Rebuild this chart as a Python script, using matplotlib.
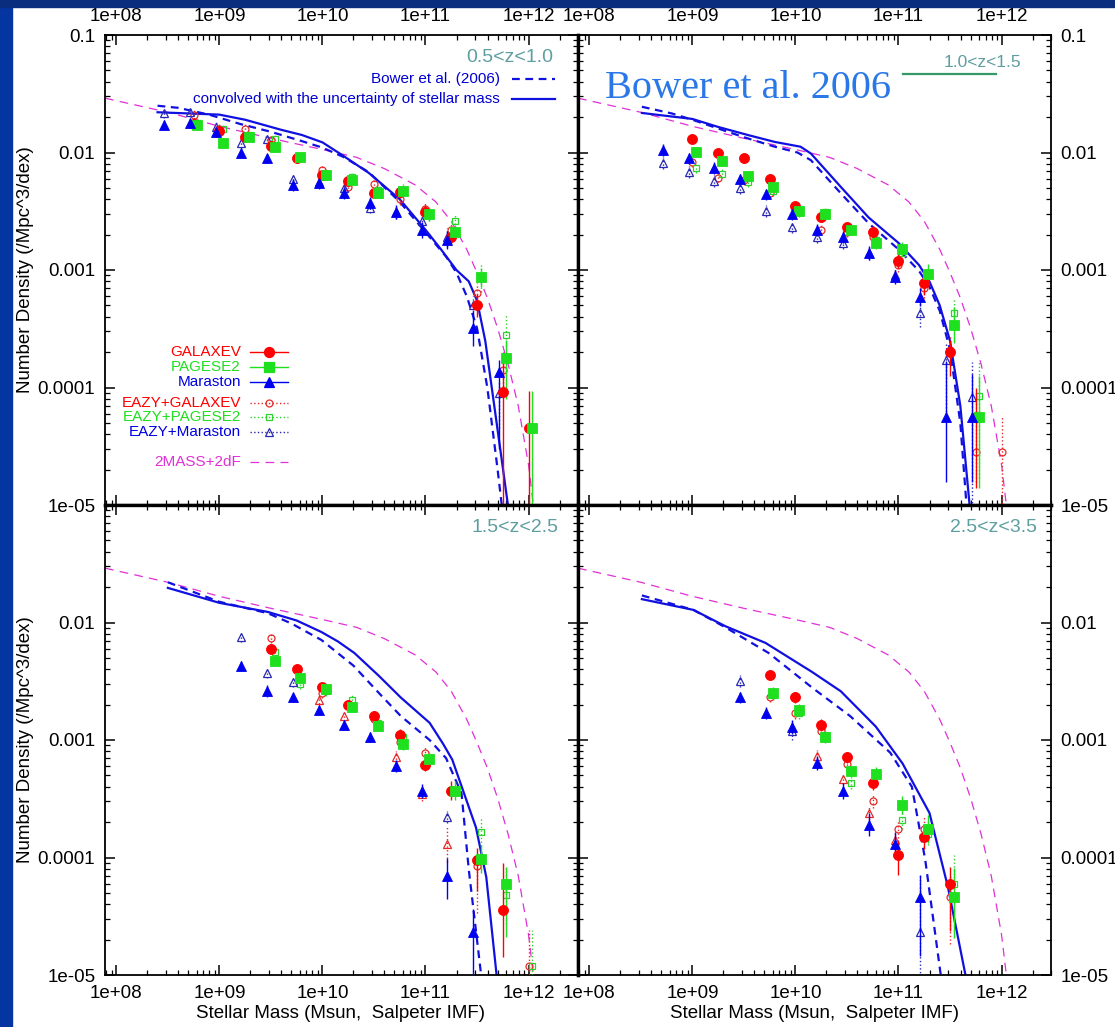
import numpy as np
import matplotlib
matplotlib.use("Agg")
import matplotlib.pyplot as plt
from matplotlib.patches import Rectangle
from matplotlib.ticker import LogLocator, NullFormatter

plt.rcParams['font.family'] = ['Liberation Sans', 'DejaVu Sans']

nan = np.nan

# ---------------- data ----------------
# 2MASS+2dF local stellar mass function (same curve in every panel)
cole_logm = [7.89, 8.5, 9.0, 9.5, 10.0, 10.33, 10.6, 10.9, 11.1, 11.25, 11.4, 11.5,
             11.6, 11.7, 11.8, 11.9, 12.0, 12.06]
cole_phi = [0.029, 0.022, 0.0167, 0.0132, 0.0106, 0.0091, 0.0073, 0.0053, 0.0038, 0.0026,
            0.0015, 0.00095, 0.00058, 0.00032, 0.00016, 0.00007, 0.000022, 0.000008]

# panel 1: 0.5<z<1.0
z1_label = '0.5<z<1.0'
z1_bower_logm = [8.40, 8.6, 8.9, 9.2, 9.5, 9.8, 10.0, 10.2, 10.45, 10.75, 11.0, 11.2, 11.3,
                 11.4, 11.5, 11.6, 11.7, 11.74]
z1_bower_phi = [0.025, 0.024, 0.021, 0.0175, 0.015, 0.0125, 0.011, 0.0092, 0.0068, 0.0038,
                0.0021, 0.0013, 0.00095, 0.0006, 0.00032, 0.0001, 0.00002, 0.00001]
z1_conv_logm = [8.40, 8.7, 9.0, 9.25, 9.6, 9.8, 10.0, 10.2, 10.45, 10.75, 11.0, 11.15, 11.3,
                11.42, 11.5, 11.58, 11.66, 11.73, 11.8]
z1_conv_phi = [0.022, 0.0215, 0.021, 0.019, 0.0156, 0.0141, 0.0122, 0.0094, 0.0067, 0.004,
               0.0022, 0.0015, 0.001, 0.0008, 0.00055, 0.00025, 0.000078, 0.000028, 0.00001]
z1_bins = [8.5, 8.75, 9.0, 9.25, 9.5, 9.75, 10.0, 10.25, 10.5, 10.75, 11.0, 11.25, 11.5, 11.75, 12.0]
z1_galaxev = [nan, 0.0175, 0.0152, 0.0136, 0.0114, 0.0089, 0.0064, 0.0057, 0.0045, 0.0046,
              0.0031, 0.0019, 5.0e-4, 9.1e-5, 4.5e-5]
z1_galaxev_err = [0, .04, .04, .04, .04, .04, .04, .04, .04, .05, .06, .06, .1, (1.0, .34), (1.0, .32)]
z1_pegase = [nan, 0.0170, 0.0120, 0.0136, 0.0112, 0.0091, 0.0064, 0.0058, 0.0045, 0.0047,
             0.0030, 0.0021, 8.7e-4, 1.8e-4, 4.5e-5]
z1_pegase_err = [0, .04, .04, .04, .04, .04, .04, .04, .04, .05, .06, .06, .08, (.35, .15), (1.0, .32)]
z1_maraston = [0.0171, 0.0178, 0.0149, 0.0100, 0.0089, 0.0053, 0.0055, 0.0045, 0.0037, 0.0031,
               0.0022, 0.0018, 3.2e-4, 1.35e-4, nan]
z1_maraston_err = [.04, .04, .04, .04, .04, .05, .05, .05, .05, .06, .07, .08, .15, (.65, .1), 0]
z1_eazy_gal = [nan, 0.021, 0.016, 0.016, 0.0128, 0.0092, 0.0071, 0.0051, 0.0054, 0.0040,
               0.0033, 0.0022, 6.4e-4, 1.4e-4, nan]
z1_eazy_gal_err = [0, .04, .04, .04, .04, .04, .04, .04, .04, .05, .06, .06, .08, (.2, .1), 0]
z1_eazy_peg = [nan, 0.018, 0.0158, 0.0141, 0.0130, 0.0092, 0.0066, 0.0062, 0.0048, 0.0048,
               0.0030, 0.0026, 8.5e-4, 2.8e-4, nan]
z1_eazy_peg_err = [0, .04, .04, .04, .04, .04, .04, .04, .04, .05, .06, .06, .12, (.35, .18), 0]
z1_eazy_mar = [0.0215, 0.022, 0.0166, 0.0120, 0.0130, 0.0060, 0.0056, 0.0050, 0.0034, 0.0031,
               0.0026, 0.0019, 5.0e-4, 9.0e-5, nan]
z1_eazy_mar_err = [.04, .04, .04, .04, .04, .05, .05, .05, .05, .06, .07, .08, .08, (.3, .1), 0]
z1_eazy_mar_red = [nan] * 15
z1_eazy_mar_red_err = [0] * 15

# panel 2: 1.0<z<1.5
z2_label = '1.0<z<1.5'
z2_bower_logm = [8.51, 8.8, 9.0, 9.25, 9.5, 9.8, 10.02, 10.15, 10.44, 10.71, 11.0, 11.2,
                 11.3, 11.4, 11.5, 11.6, 11.66]
z2_bower_phi = [0.0245, 0.0215, 0.019, 0.016, 0.0135, 0.0112, 0.0100, 0.0086, 0.0045, 0.0025,
                0.0015, 0.00098, 0.00072, 0.00045, 0.00021, 0.00005, 0.00001]
z2_conv_logm = [8.51, 9.0, 9.25, 9.55, 9.8, 10.05, 10.15, 10.44, 10.71, 11.0, 11.2, 11.3,
                11.4, 11.5, 11.6, 11.69]
z2_conv_phi = [0.0217, 0.0193, 0.0165, 0.014, 0.0123, 0.0112, 0.0098, 0.0051, 0.0028, 0.0017,
               0.0011, 0.0008, 0.0005, 0.00025, 0.00007, 0.00001]
z2_bins = [8.75, 9.0, 9.25, 9.5, 9.75, 10.0, 10.25, 10.5, 10.75, 11.0, 11.25, 11.5, 11.75, 12.0]
z2_galaxev = [nan, 0.0131, 0.0099, 0.0089, 0.0060, 0.0035, 0.0028, 0.0023, 0.0021, 0.0012,
              7.7e-4, 2.0e-4, 5.6e-5, nan]
z2_galaxev_err = [0, .04, .04, .04, .04, .04, .04, .04, .05, .06, .1, (.2, .1), (.6, .25), 0]
z2_pegase = [nan, 0.0101, 0.0084, 0.0063, 0.0051, 0.0032, 0.0030, 0.0022, 0.0017, 0.0015,
             9.3e-4, 3.4e-4, 5.6e-5, nan]
z2_pegase_err = [0, .04, .04, .04, .04, .04, .04, .04, .05, .06, .08, .15, (.6, .35), 0]
z2_maraston = [0.0105, 0.0089, 0.0074, 0.0059, 0.0044, 0.0030, 0.0022, 0.0019, 0.0014, 8.7e-4,
               5.9e-4, 5.6e-5, 5.6e-5, nan]
z2_maraston_err = [.05, .05, .05, .05, .05, .05, .05, .05, .06, .06, .08, (.55, .48), (.55, .37), 0]
z2_eazy_gal = [nan, 0.0083, 0.0061, 0.0058, 0.0045, 0.0031, 0.0022, 0.0021, 0.0019, 0.0011,
               7.0e-4, 2.1e-4, 2.8e-5, 2.8e-5]
z2_eazy_gal_err = [0, .04, .04, .04, .04, .04, .04, .04, .05, .06, .08, .12, (.25, .53), (.5, .31)]
z2_eazy_peg = [nan, 0.0074, 0.0066, 0.0056, 0.0047, 0.0031, 0.0031, 0.0022, 0.0018, 0.0014,
               9.0e-4, 4.3e-4, 8.5e-5, nan]
z2_eazy_peg_err = [0, .04, .04, .04, .04, .04, .04, .04, .05, .06, .08, .12, (.7, .3), 0]
z2_eazy_mar = [0.0081, 0.0068, 0.0057, 0.0050, 0.0032, 0.0023, 0.0019, 0.0017, 0.0014, 9.0e-4,
               4.3e-4, 1.7e-4, 8.3e-5, nan]
z2_eazy_mar_err = [.05, .05, .05, .05, .05, .05, .05, .05, .06, .06, .12, (.5, .15), (.9, .3), 0]
z2_eazy_mar_red = [nan] * 14
z2_eazy_mar_red_err = [0] * 14

# panel 3: 1.5<z<2.5
z3_label = '1.5<z<2.5'
z3_bower_logm = [8.5, 9.0, 9.47, 9.7, 9.99, 10.3, 10.55, 10.76, 11.04, 11.2, 11.35, 11.42, 11.54]
z3_bower_phi = [0.022, 0.015, 0.012, 0.0098, 0.0071, 0.0043, 0.0025, 0.0016, 0.001, 0.0007,
                0.00035, 0.000079, 0.00001]
z3_conv_logm = [8.5, 9.0, 9.47, 9.75, 9.99, 10.15, 10.31, 10.55, 10.76, 11.04, 11.17, 11.26,
                11.49, 11.59, 11.69]
z3_conv_phi = [0.0197, 0.0147, 0.0123, 0.0104, 0.0083, 0.0069, 0.0055, 0.0035, 0.0023, 0.0014,
               0.00093, 0.00068, 0.00018, 0.000068, 0.00001]
z3_bins = [9.25, 9.5, 9.75, 10.0, 10.25, 10.5, 10.75, 11.0, 11.25, 11.5, 11.75, 12.0]
z3_galaxev = [nan, 0.0060, 0.0040, 0.0028, 0.0020, 0.0016, 0.0011, 6.1e-4, 3.7e-4, 9.5e-5, 3.6e-5, nan]
z3_galaxev_err = [0, .04, .04, .04, .04, .04, .05, .05, .08, (.26, .1), (.4, .4), 0]
z3_pegase = [nan, 0.0047, 0.0034, 0.0027, 0.0019, 0.00132, 9.3e-4, 6.9e-4, 3.7e-4, 9.7e-5, 5.9e-5, nan]
z3_pegase_err = [0, .04, .04, .04, .04, .04, .05, .06, .08, .12, (.45, .15), 0]
z3_maraston = [0.0043, 0.0026, 0.0023, 0.0018, 0.00134, 0.00106, 6.0e-4, 3.7e-4, 7.0e-5, 2.3e-5, nan, nan]
z3_maraston_err = [.04, .05, .04, .04, .04, .04, .05, .06, (.2, .15), (.8, .2), 0, 0]
z3_eazy_gal = [nan, 0.0074, nan, 0.0025, nan, 0.0015, 9.6e-4, 7.7e-4, nan, 8.5e-5, nan, 1.2e-5]
z3_eazy_gal_err = [0, .04, 0, .04, 0, .04, .05, .06, 0, (.4, .1), 0, (.3, .3)]
z3_eazy_peg = [nan, 0.0056, 0.0030, 0.0026, 0.0022, 0.0014, 0.00106, nan, nan, 1.65e-4, 4.8e-5, 1.2e-5]
z3_eazy_peg_err = [0, .04, .04, .04, .04, .04, .05, 0, 0, .12, .25, (.3, .3)]
z3_eazy_mar = [0.0075, 0.0037, 0.0031, nan, nan, nan, nan, nan, 2.2e-4, nan, nan, nan]
z3_eazy_mar_err = [.04, .04, .04, 0, 0, 0, 0, 0, .05, 0, 0, 0]
z3_eazy_mar_red = [nan, nan, nan, 0.0022, 0.0016, nan, 7.2e-4, 3.5e-4, 1.3e-4, nan, nan, nan]
z3_eazy_mar_red_err = [0, 0, 0, .04, .04, 0, .05, .06, (.15, .15), 0, 0, 0]

# panel 4: 2.5<z<3.5
z4_label = '2.5<z<3.5'
z4_bower_logm = [8.51, 9.01, 9.32, 9.74, 10.16, 10.53, 10.92, 11.13, 11.26, 11.41]
z4_bower_phi = [0.017, 0.0128, 0.0091, 0.0055, 0.0028, 0.0016, 0.00078, 0.0004, 0.000095, 0.00001]
z4_conv_logm = [8.51, 9.01, 9.32, 9.71, 10.16, 10.44, 10.78, 11.04, 11.3, 11.48, 11.65]
z4_conv_phi = [0.0158, 0.0128, 0.0093, 0.0067, 0.0038, 0.0026, 0.0013, 0.00063, 0.00024,
               0.000056, 0.00001]
z4_bins = [9.5, 9.75, 10.0, 10.25, 10.5, 10.75, 11.0, 11.25, 11.5]
z4_galaxev = [nan, 0.0036, 0.0023, 0.00135, 7.1e-4, 4.3e-4, 1.05e-4, 1.5e-4, 5.9e-5]
z4_galaxev_err = [0, .04, .05, .05, .05, .06, (.17, .13), .1, (.4, .15)]
z4_pegase = [nan, 0.0025, 0.0018, 0.00106, 5.4e-4, 5.1e-4, 2.8e-4, 1.75e-4, 4.6e-5]
z4_pegase_err = [0, .05, .05, .05, .05, .06, .08, .12, (.35, .25)]
z4_maraston = [0.0023, 0.0017, 0.0013, 6.4e-4, 3.7e-4, 1.9e-4, 1.3e-4, 4.6e-5, nan]
z4_maraston_err = [.05, .05, .06, .06, .07, .1, .1, (.5, .19), 0]
z4_eazy_gal = [nan, 0.0023, 0.0017, 0.0012, 6.3e-4, 3.0e-4, 1.75e-4, 1.75e-4, 4.6e-5]
z4_eazy_gal_err = [0, .04, .05, .05, .05, .06, .08, .1, (.4, .2)]
z4_eazy_peg = [nan, 0.0024, 0.0017, 0.0011, 4.3e-4, nan, 2.1e-4, 1.6e-4, 5.9e-5]
z4_eazy_peg_err = [0, .04, .05, .05, .05, 0, .08, .1, (.35, .25)]
z4_eazy_mar = [0.0032, nan, 0.0012, nan, nan, nan, nan, 2.3e-5, nan]
z4_eazy_mar_err = [.05, 0, .08, 0, 0, 0, 0, (1.0, .5), 0]
z4_eazy_mar_red = [nan, nan, nan, 7.3e-4, 4.7e-4, 2.4e-4, 1.4e-4, nan, nan]
z4_eazy_mar_red_err = [0, 0, 0, .05, .05, .06, .08, 0, 0]

legend_names = ['GALAXEV', 'PAGESE2', 'Maraston', 'EAZY+GALAXEV', 'EAZY+PAGESE2', 'EAZY+Maraston']

# ---------------- styles ----------------
RED = '#ff0000'
GREEN = '#1ee01e'
BLUE = '#0000f0'
NAVY = '#2828b4'
MAGENTA = '#e030d8'
MODEL = '#1010e0'
ZCOL = '#5f9ea0'
BOWER_DASH = (3.5, 2.5)
COLE_DASH = (7, 5)

# (color, marker, size, filled, errbar style, x shift in dex)
styles = {
    'galaxev': (RED, 'o', 7.2, True, '-', 0.0),
    'pegase': (GREEN, 's', 6.5, True, '-', 0.035),
    'maraston': (BLUE, '^', 7.5, True, '-', -0.037),
    'eazy_gal': ('#e82828', 'o', 5.0, False, ':', 0.0),
    'eazy_peg': ('#2ad42a', 's', 5.0, False, ':', 0.035),
    'eazy_mar': (NAVY, '^', 5.5, False, ':', -0.037),
    'eazy_mar_red': ('#e82828', '^', 5.5, False, ':', -0.037),
}


def plot_series(ax, bins, vals, errs, key):
    color, marker, ms, filled, ls, shift = styles[key]
    logm = np.array(bins) + shift
    y = np.array(vals, dtype=float)
    lo = np.array([e[0] if isinstance(e, tuple) else e for e in errs], dtype=float)
    hi = np.array([e[1] if isinstance(e, tuple) else e for e in errs], dtype=float)
    ok = np.isfinite(y)
    if not ok.any():
        return
    x, y, lo, hi = 10 ** logm[ok], y[ok], lo[ok], hi[ok]
    yerr = [y - y * 10 ** -lo, y * 10 ** hi - y]
    eb = ax.errorbar(x, y, yerr=yerr, fmt=marker, ms=ms, color=color,
                     mfc=color if filled else 'none', mec=color,
                     mew=0.6 if filled else 0.9, elinewidth=1.0, capsize=0, zorder=4 if filled else 3)
    if ls != '-':
        eb.lines[2][0].set_linestyle(ls)


def setup_axes(ax, left_col, top_row):
    ax.set_xscale('log')
    ax.set_yscale('log')
    ax.set_xlim(10 ** 7.89, 10 ** 12.48)
    ax.set_ylim(1e-5, 0.1)
    ax.set_xticks([1e8, 1e9, 1e10, 1e11, 1e12], ['1e+08', '1e+09', '1e+10', '1e+11', '1e+12'])
    ylabs = ['1e-05', '0.0001', '0.001', '0.01', '0.1' if top_row else '']
    ax.set_yticks([1e-5, 1e-4, 1e-3, 1e-2, 1e-1], ylabs)
    for axis in (ax.xaxis, ax.yaxis):
        axis.set_minor_locator(LogLocator(base=10, subs=np.arange(2, 10)))
        axis.set_minor_formatter(NullFormatter())
    ax.tick_params(which='both', direction='in', top=True, bottom=True, left=True, right=True,
                   labeltop=top_row, labelbottom=not top_row,
                   labelleft=left_col, labelright=not left_col,
                   labelsize=13.5, pad=7)
    ax.tick_params(which='major', length=7, width=1.1)
    ax.tick_params(which='minor', length=3.5, width=0.9)
    inner = {'right': left_col, 'left': not left_col, 'bottom': top_row, 'top': not top_row}
    for side, sp in ax.spines.items():
        sp.set_linewidth(2.4 if inner[side] else 1.3)


def draw_panel(ax, bower_m, bower_p, conv_m, conv_p, bins, series):
    ax.plot(10 ** np.array(cole_logm), cole_phi, color=MAGENTA, lw=0.9, dashes=COLE_DASH, zorder=2)
    ax.plot(10 ** np.array(bower_m), bower_p, color=MODEL, lw=1.6, dashes=BOWER_DASH, zorder=2)
    ax.plot(10 ** np.array(conv_m), conv_p, color=MODEL, lw=1.6, zorder=2)
    for key, vals, errs in series:
        plot_series(ax, bins, vals, errs, key)


W, H = 1115, 1027
fig = plt.figure(figsize=(W / 100, H / 100), dpi=100)
fig.patch.set_facecolor('white')


def add_ax(x0, y0, x1, y1):
    return fig.add_axes([x0 / W, 1 - y1 / H, (x1 - x0) / W, (y1 - y0) / H])


ax1 = add_ax(105, 35, 578, 505)
ax2 = add_ax(578, 35, 1051, 505)
ax3 = add_ax(105, 505, 578, 975)
ax4 = add_ax(578, 505, 1051, 975)

panels = [
    (ax1, True, True, z1_bower_logm, z1_bower_phi, z1_conv_logm, z1_conv_phi, z1_bins,
     [('galaxev', z1_galaxev, z1_galaxev_err), ('pegase', z1_pegase, z1_pegase_err),
      ('maraston', z1_maraston, z1_maraston_err), ('eazy_gal', z1_eazy_gal, z1_eazy_gal_err),
      ('eazy_peg', z1_eazy_peg, z1_eazy_peg_err), ('eazy_mar', z1_eazy_mar, z1_eazy_mar_err),
      ('eazy_mar_red', z1_eazy_mar_red, z1_eazy_mar_red_err)]),
    (ax2, False, True, z2_bower_logm, z2_bower_phi, z2_conv_logm, z2_conv_phi, z2_bins,
     [('galaxev', z2_galaxev, z2_galaxev_err), ('pegase', z2_pegase, z2_pegase_err),
      ('maraston', z2_maraston, z2_maraston_err), ('eazy_gal', z2_eazy_gal, z2_eazy_gal_err),
      ('eazy_peg', z2_eazy_peg, z2_eazy_peg_err), ('eazy_mar', z2_eazy_mar, z2_eazy_mar_err),
      ('eazy_mar_red', z2_eazy_mar_red, z2_eazy_mar_red_err)]),
    (ax3, True, False, z3_bower_logm, z3_bower_phi, z3_conv_logm, z3_conv_phi, z3_bins,
     [('galaxev', z3_galaxev, z3_galaxev_err), ('pegase', z3_pegase, z3_pegase_err),
      ('maraston', z3_maraston, z3_maraston_err), ('eazy_gal', z3_eazy_gal, z3_eazy_gal_err),
      ('eazy_peg', z3_eazy_peg, z3_eazy_peg_err), ('eazy_mar', z3_eazy_mar, z3_eazy_mar_err),
      ('eazy_mar_red', z3_eazy_mar_red, z3_eazy_mar_red_err)]),
    (ax4, False, False, z4_bower_logm, z4_bower_phi, z4_conv_logm, z4_conv_phi, z4_bins,
     [('galaxev', z4_galaxev, z4_galaxev_err), ('pegase', z4_pegase, z4_pegase_err),
      ('maraston', z4_maraston, z4_maraston_err), ('eazy_gal', z4_eazy_gal, z4_eazy_gal_err),
      ('eazy_peg', z4_eazy_peg, z4_eazy_peg_err), ('eazy_mar', z4_eazy_mar, z4_eazy_mar_err),
      ('eazy_mar_red', z4_eazy_mar_red, z4_eazy_mar_red_err)]),
]

for ax, left_col, top_row, bm, bp, cm, cp, bins, series in panels:
    setup_axes(ax, left_col, top_row)
    draw_panel(ax, bm, bp, cm, cp, bins, series)

# redshift labels
ax1.text(0.947, 0.953, z1_label, transform=ax1.transAxes, ha='right', va='center', fontsize=14, color=ZCOL)
ax2.text(0.856, 0.942, z2_label, transform=ax2.transAxes, ha='center', va='center', fontsize=12.5, color=ZCOL)
ax3.text(0.958, 0.953, z3_label, transform=ax3.transAxes, ha='right', va='center', fontsize=14, color=ZCOL)
ax4.text(0.970, 0.953, z4_label, transform=ax4.transAxes, ha='right', va='center', fontsize=14, color=ZCOL)

# model key (top-left panel)
ax1.text(0.835, 0.906, 'Bower et al. (2006)', transform=ax1.transAxes, ha='right', va='center',
         fontsize=11, color='#0000d0')
ax1.plot([0.860, 0.951], [0.906, 0.906], transform=ax1.transAxes, color=MODEL, lw=1.6, dashes=BOWER_DASH)
ax1.text(0.835, 0.864, 'convolved with the uncertainty of stellar mass', transform=ax1.transAxes,
         ha='right', va='center', fontsize=11, color='#0000d0')
ax1.plot([0.860, 0.951], [0.864, 0.864], transform=ax1.transAxes, color=MODEL, lw=1.6)

# data key (top-left panel)
key_rows = [0.3255, 0.2936, 0.2617, 0.2170, 0.1872, 0.1553]
key_styles = ['galaxev', 'pegase', 'maraston', 'eazy_gal', 'eazy_peg', 'eazy_mar']
key_text_cols = [RED, GREEN, '#0000e0', RED, GREEN, '#0000e0']
for yk, name, key, tcol in zip(key_rows, legend_names, key_styles, key_text_cols):
    color, marker, ms, filled, ls, shift = styles[key]
    ax1.text(0.2875, yk, name, transform=ax1.transAxes, ha='right', va='center', fontsize=11, color=tcol)
    ax1.plot([0.3066, 0.3869], [yk, yk], transform=ax1.transAxes, color=color, lw=1.0, ls=ls)
    ax1.plot([0.3467], [yk], transform=ax1.transAxes, marker=marker, ms=ms, color=color,
             mfc=color if filled else 'none', mec=color, mew=0.9)
ax1.text(0.2875, 0.0915, '2MASS+2dF', transform=ax1.transAxes, ha='right', va='center',
         fontsize=11, color=MAGENTA)
ax1.plot([0.3066, 0.3869], [0.0915, 0.0915], transform=ax1.transAxes, color=MAGENTA, lw=0.9, dashes=COLE_DASH)

# overlay in the top-right panel
ax2.text(0.057, 0.887, 'Bower et al. 2006', transform=ax2.transAxes, ha='left', va='center',
         fontsize=29, color='#2a78e8', family=['Liberation Serif', 'DejaVu Serif'])
ax2.plot([0.687, 0.884], [0.916, 0.916], transform=ax2.transAxes, color='#339966', lw=1.6)

# axis titles
for yc in (270, 740):
    fig.text(26 / W, 1 - yc / H, 'Number Density (/Mpc^3/dex)', rotation=90,
             ha='center', va='center', fontsize=13.5)
for xc in (341, 815):
    fig.text(xc / W, 1 - 1014 / H, 'Stellar Mass (Msun,  Salpeter IMF)',
             ha='center', va='center', fontsize=13.5)

# slide border
fig.patches.append(Rectangle((0, 0), 12 / W, 1, transform=fig.transFigure, color='#0535a0', zorder=5))
fig.patches.append(Rectangle((0, 1 - 7 / H), 1, 7 / H, transform=fig.transFigure, color='#0b2d7d', zorder=5))

fig.savefig('out.png', dpi=100)
